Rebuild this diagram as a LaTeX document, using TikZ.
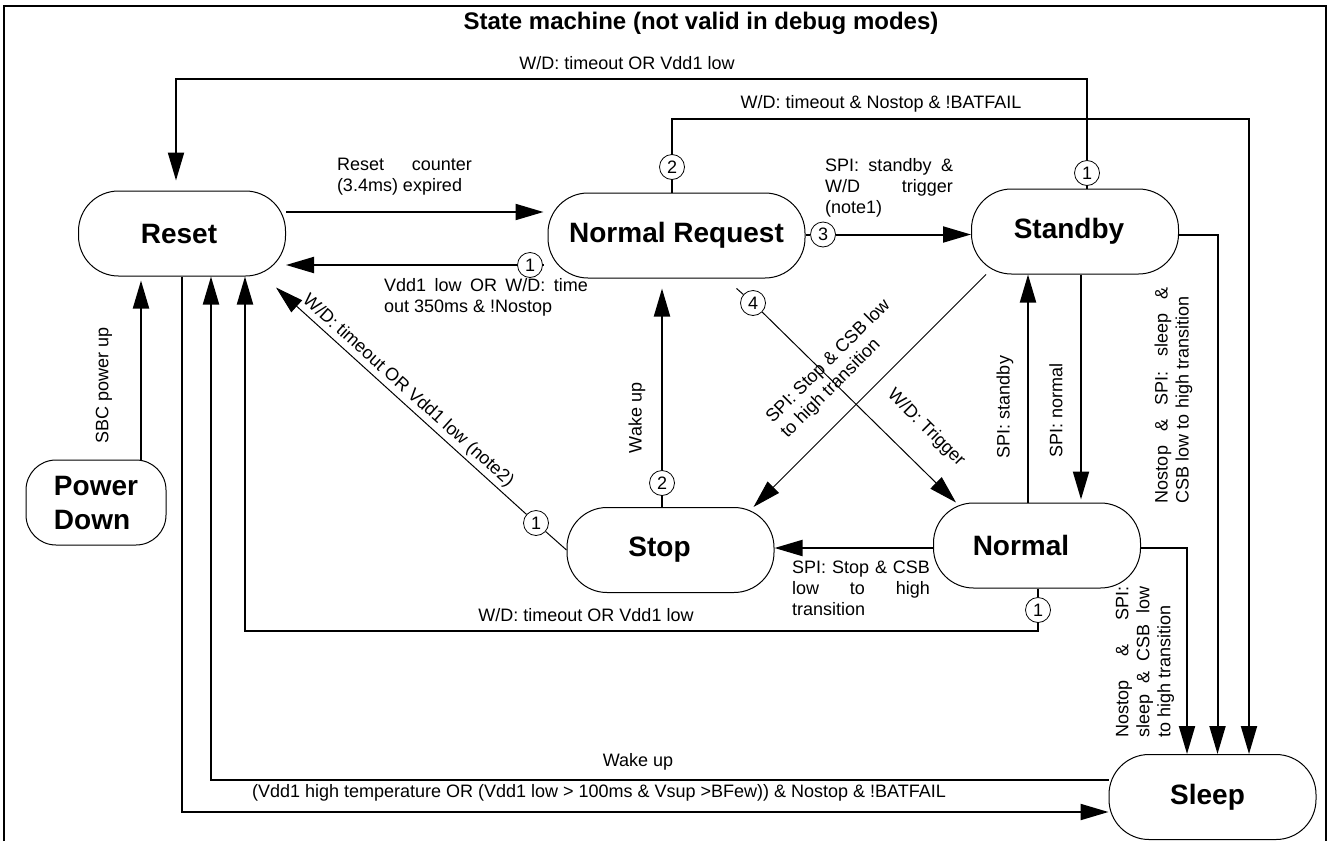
\documentclass[tikz,border=0pt]{standalone}
\usepackage{fontspec}
\setmainfont{Liberation Sans}
\usepackage{tikz}
\usetikzlibrary{arrows.meta}
\usetikzlibrary{calc}
\newcommand\lblfont{\fontsize{18}{21}\selectfont}
\newcommand\statefont{\fontsize{28}{34}\selectfont\bfseries}
\hyphenpenalty=10000
\tolerance=10000
\begin{document}
\begin{tikzpicture}[
    x = 1pt, y = -1pt,
    >={Triangle[length=28pt,width=16pt]},
    state/.style = {draw, line width=1pt, rounded corners=40pt,
      minimum width=207pt, minimum height=85pt, font=\statefont, align=center},
    numcirc/.style = {draw, circle, line width=0.8pt, minimum size=25pt,
      inner sep=0pt, font=\lblfont},
    conn/.style = {line width=2pt},
    thinconn/.style = {line width=1pt},
    lbl/.style = {font=\lblfont, inner sep=0pt},
    jlbl/.style = {lbl, align=justify, text width=#1}]
    \useasboundingbox (0,0) rectangle (1330,841);
    \draw[line width=1.5pt] (4,841) |- (1326,6) -- (1326,841);
    \node[font=\fontsize{24}{28}\selectfont\bfseries] (title) at (701,23)
      {State machine (not valid in debug modes)};

    \node[state] (reset) at (182,233.5) {Reset\hspace{6pt}};
    \node[state, minimum width=257pt] (nreq) at (676.5,235.5) {Normal Request};
    \node[state] (stby) at (1075,231.5) {Standby\hspace{12pt}};
    \node[state, minimum width=140pt, rounded corners=30pt, align=left] (pdown)
      at (96,502.5) {Power\\Down};
    \node[state] (stop) at (670.5,550) {Stop\hspace{22pt}};
    \node[state] (norm) at (1037,545.5) {Normal\hspace{32pt}};
    \node[state] (sleep) at (1212.5,797) {Sleep\hspace{10pt}};

    \node[numcirc] (nr1) at (530,265) {1};
    \node[numcirc] (nr2) at (672,167) {2};
    \node[numcirc] (nr3) at (823,234.5) {3};
    \node[numcirc] (nr4) at (753,303) {4};
    \node[numcirc] (sb1) at (1087,173) {1};
    \node[numcirc] (sp1) at (536,523) {1};
    \node[numcirc] (sp2) at (662,483) {2};
    \node[numcirc] (nm1) at (1038,610) {1};

    \coordinate (railtop) at (176,79);
    \coordinate (railbat) at (1249,119);
    \coordinate (railwd) at (245,631);
    \coordinate (railwake) at (211,780);
    \coordinate (railpwr) at (182,812);
    \coordinate (rcnt) at (0,212);
    \coordinate (rsb) at (1217.5,234.5);
    \coordinate (rnm) at (1187,548);

    \draw[conn] (stby.north -| sb1) -- (sb1);
    \draw[conn,->,shorten >=10pt] (sb1) |- (railtop) -- (railtop |- reset.north);
    \draw[conn] (nreq.north -| nr2) -- (nr2);
    \draw[conn,->] (nr2) |- (railbat) -- (railbat |- sleep.north);
    \draw[conn,->,shorten >=4pt] (reset.east |- rcnt) -- (nreq.west |- rcnt);
    \draw[conn,shorten <=5pt] (nreq.west |- nr1) -- (nr1);
    \draw[conn,->] (nr1) -- (reset.east |- nr1);
    \draw[conn] (nreq.east |- nr3) -- (nr3);
    \draw[conn,->] (nr3) -- (stby.west |- nr3);
    \draw[thinconn] ($(nr4)!22pt!(nreq)$) -- (nr4);
    \draw[thinconn,->] (nr4) -- ([xshift=23pt]norm.north west);
    \draw[thinconn,->] ([xshift=15pt]stby.south west) -- ([xshift=-21pt]stop.north east);
    \draw[conn] (stop.north -| sp2) -- (sp2);
    \draw[conn,->,shorten >=10pt] (sp2) -- (sp2 |- nreq.south);
    \draw[thinconn] (stop.west) -- (sp1);
    \draw[thinconn,->] (sp1) -- ([shift={(-10,11)}]reset.south east);
    \draw[conn,->] ([xshift=-9pt]norm.north) -- ([xshift=-9pt]norm.north |- stby.south);
    \draw[conn,->,shorten >=3pt] ([xshift=6pt]stby.south) -- ([xshift=6pt]stby.south |- norm.north);
    \draw[conn,->] (stby.east |- rsb) -| (rsb |- sleep.north);
    \draw[conn,->] (norm.east |- rnm) -| (rnm |- sleep.north);
    \draw[conn,->] (norm.west |- rnm) -- (stop.east |- rnm);
    \draw[conn] (norm.south -| nm1) -- (nm1);
    \draw[conn,->] (nm1) |- (railwd) -- (railwd |- reset.south);
    \draw[conn,->] (sleep.west |- railwake) -| (railwake |- reset.south);
    \draw[conn,->] (reset.south -| railpwr) |- (sleep.west |- railpwr);
    \draw[conn,->,shorten >=4pt] ([xshift=45pt]pdown.north) -- ([xshift=45pt]pdown.north |- reset.south);

    \node[lbl] (ltop) at (627,63) {W/D: timeout OR Vdd1 low};
    \node[lbl] (lbat) at (881,104) {W/D: timeout \& Nostop \& !BATFAIL};
    \node[jlbl=135pt] (lcnt) at (404.5,176.5) {Reset counter\linebreak (3.4ms) expired};
    \node[jlbl=204pt] (lnr) at (486,297) {Vdd1 low OR W/D: time\linebreak out 350ms \& !Nostop};
    \node[jlbl=128pt] (lsb) at (889,188) {SPI: standby \&\linebreak W/D trigger\linebreak (note1)};
    \node[jlbl=138pt] (lsp) at (861,588) {SPI: Stop \& CSB\linebreak low to high\linebreak transition};
    \node[lbl, rotate=90] (lwake) at (637,418) {Wake up};
    \node[lbl, rotate=45, align=left] (lstop) at (836,369) {SPI: Stop \& CSB low\\to high transition};
    \node[lbl, rotate=-45] (ltrig) at (926,428) {W/D: Trigger};
    \node[lbl, rotate=-42] (lnote) at (408,391) {W/D: timeout OR Vdd1 low (note2)};
    \node[lbl, rotate=90] (lsbs) at (1005,407) {SPI: standby};
    \node[lbl, rotate=90] (lnrm) at (1056,410) {SPI: normal};
    \node[jlbl=216pt, rotate=90] (lslp1) at (1173.5,395)
      {Nostop \& SPI: sleep \&\linebreak CSB low to high transition};
    \node[jlbl=151pt, rotate=90] (lslp2) at (1145,662)
      {Nostop \& SPI:\linebreak sleep \& CSB low\linebreak to high transition};
    \node[lbl, rotate=90] (lpwr) at (104,385) {SBC power up};
    \node[lbl] (lwd) at (586,615) {W/D: timeout OR Vdd1 low};
    \node[lbl] (lwk) at (638,762) {Wake up};
    \node[lbl] (lbot) at (599,793)
      {(Vdd1 high temperature OR (Vdd1 low > 100ms \& Vsup >BFew)) \& Nostop \& !BATFAIL};
\end{tikzpicture}
\end{document}
